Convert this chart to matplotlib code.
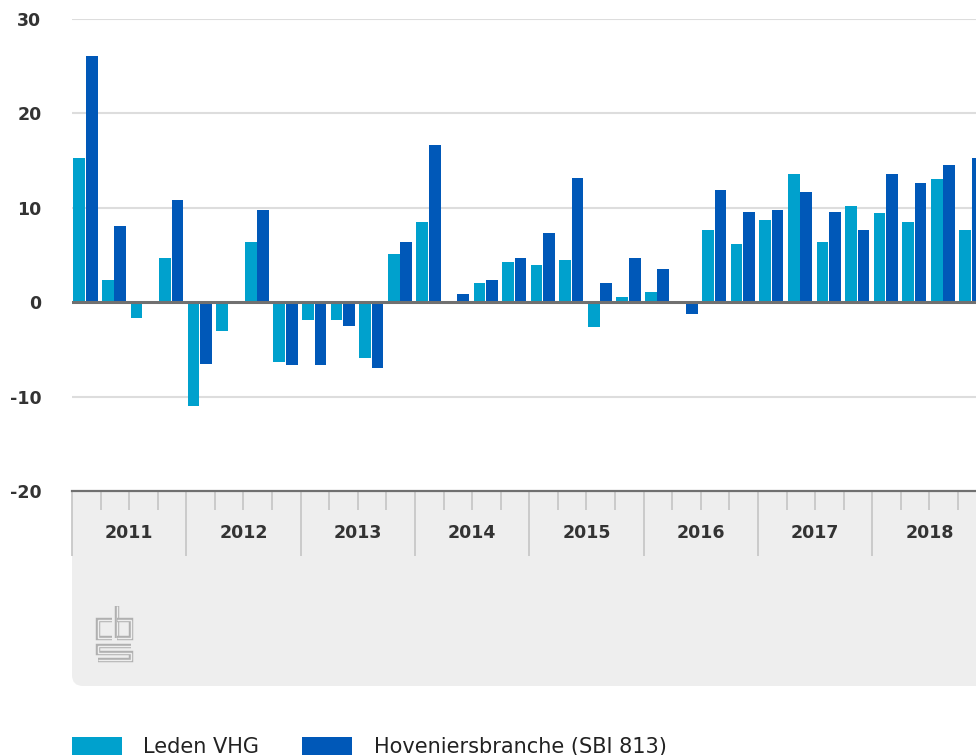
import numpy as np
import matplotlib.pyplot as plt
from matplotlib.patches import FancyBboxPatch, Rectangle
from matplotlib.lines import Line2D
import matplotlib.transforms as mtransforms

years = ['2011', '2012', '2013', '2014', '2015', '2016', '2017', '2018']

# quarterly change (%), 2011 Q1 .. 2018 Q4
leden_vhg = [15.3, 2.4, -1.7, 4.7,
             -11.0, -3.1, 6.4, -6.3,
             -1.9, -1.9, -5.9, 5.1,
             8.5, 0.0, 2.0, 4.3,
             3.9, 4.5, -2.6, 0.5,
             1.1, 0.0, 7.7, 6.2,
             8.7, 13.6, 6.4, 10.2,
             9.4, 8.5, 13.0, 7.7]
hoveniers = [26.1, 8.1, 0.0, 10.8,
             -6.5, 0.0, 9.8, -6.6,
             -6.6, -2.5, -7.0, 6.4,
             16.6, 0.9, 2.4, 4.7,
             7.3, 13.2, 2.0, 4.7,
             3.5, -1.3, 11.9, 9.6,
             9.8, 11.7, 9.6, 7.7,
             13.6, 12.6, 14.5, 15.3]

light = '#00a1cd'
dark = '#0058b8'
panel = '#eeeeee'

W, H = 976, 755
QW = 28.58  # pixels per quarter
fig = plt.figure(figsize=(W / 100, H / 100), dpi=100)
pt = fig.dpi_scale_trans


def px(x, y):
    return x / 100, (H - y) / 100


# grey panel under the axis
x0, y0 = px(72, 686)
pan = FancyBboxPatch((x0, y0), 12, (686 - 491) / 100,
                     boxstyle='round,pad=0,rounding_size=0.11',
                     transform=pt, facecolor=panel, edgecolor='none', zorder=0)
fig.patches.append(pan)
fig.patches.append(Rectangle(px(72, 560), 12, 0.7, transform=pt,
                             facecolor=panel, edgecolor='none', zorder=0))

ax = fig.add_axes([72 / W, 1 - 491 / H, (W - 72) / W, 472 / H])
ax.set_zorder(2)
ax.patch.set_alpha(0)

n = len(leden_vhg)
q = np.arange(n)
ax.bar(q + 0.05, leden_vhg, width=0.41, align='edge', color=light, zorder=3)
ax.bar(q + 0.485, hoveniers, width=0.41, align='edge', color=dark, zorder=3)

ax.set_yticks([-20, -10, 0, 10, 20, 30])
ax.set_yticklabels(['-20', '-10', '0', '10', '20', '30'])
for g in [10, 20, 30, -10]:
    ax.axhline(g, color='#dddddd', lw=1.5, zorder=1)
ax.axhline(0, color='#707070', lw=2.2, zorder=4)

for s in ['top', 'right', 'left']:
    ax.spines[s].set_visible(False)
ax.spines['bottom'].set_color('#707070')
ax.spines['bottom'].set_linewidth(1.6)

ax.tick_params(axis='y', length=0, pad=22, labelsize=12.5, labelcolor='#333333')
for lab in ax.get_yticklabels():
    lab.set_fontweight('bold')

ax.set_xticks(np.arange(0, n + 1, 4))
ax.set_xticks(np.arange(0, n + 1, 1), minor=True)
ax.tick_params(axis='x', which='major', length=65 * 0.72, width=1.3,
               color='#c8c8c8', labelbottom=False)
ax.tick_params(axis='x', which='minor', length=19 * 0.72, width=1.3,
               color='#c8c8c8')

# limits after the ticks, so the ticks do not widen them
ax.set_xlim(0, (W - 72) / QW)
ax.set_ylim(-20, 30)

tr = mtransforms.blended_transform_factory(ax.transData, ax.transAxes)
for i, yr in enumerate(years):
    ax.text(4 * i + 2, -42 / 472, yr, transform=tr, ha='center', va='center',
            fontsize=12.5, fontweight='bold', color='#333333')

# cbs logo
logo = [
    [(112, 620), (98, 620), (98, 638), (112, 638)],
    [(117, 606), (117, 638)],
    [(117, 620), (131, 620), (131, 638), (117, 638)],
    [(131, 646), (98, 646), (98, 653), (131, 653), (131, 660), (98, 660)],
]
for path in logo:
    xs = [p[0] / 100 for p in path]
    ys = [(H - p[1]) / 100 for p in path]
    fig.lines.append(Line2D(xs, ys, transform=pt, color='#b0b0b0', lw=3.2,
                            solid_joinstyle='miter', solid_capstyle='butt'))
    fig.lines.append(Line2D(xs, ys, transform=pt, color=panel, lw=1.0,
                            solid_joinstyle='miter', solid_capstyle='butt'))

# legend
fig.patches.append(Rectangle(px(72, 760), 0.50, 0.23, transform=pt,
                             facecolor=light, edgecolor='none'))
fig.patches.append(Rectangle(px(302, 760), 0.50, 0.23, transform=pt,
                             facecolor=dark, edgecolor='none'))
fig.text(*px(143, 753), 'Leden VHG', transform=pt, fontsize=15,
         color='#222222', va='baseline')
fig.text(*px(374, 753), 'Hoveniersbranche (SBI 813)', transform=pt,
         fontsize=15, color='#222222', va='baseline')

fig.savefig('out.png', dpi=100)
